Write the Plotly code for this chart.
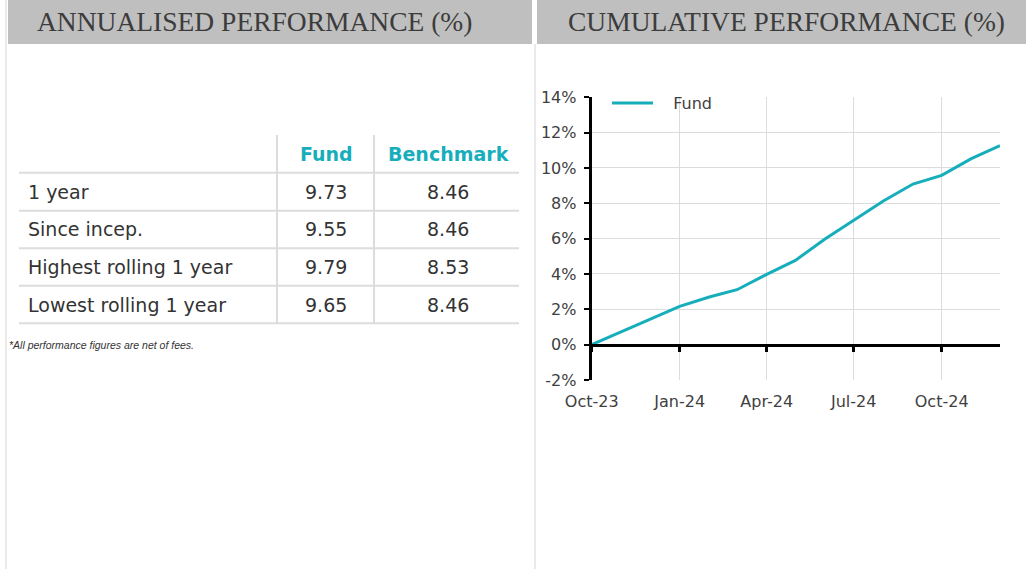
import plotly.graph_objects as go

# ---------------- data ----------------
row_labels = ["1 year", "Since incep.", "Highest rolling 1 year", "Lowest rolling 1 year"]
col_headers = ["Fund", "Benchmark"]
fund_vals = [9.73, 9.55, 9.79, 9.65]
bench_vals = [8.46, 8.46, 8.53, 8.46]
footnote = "*All performance figures are net of fees."

dates = ["2023-10-01", "2023-11-01", "2023-12-01", "2024-01-01", "2024-02-01", "2024-03-01",
         "2024-04-01", "2024-05-01", "2024-06-01", "2024-07-01", "2024-08-01", "2024-09-01",
         "2024-10-01", "2024-11-01", "2024-12-01"]
fund_cum = [0.0, 0.72, 1.45, 2.17, 2.70, 3.11, 3.98, 4.77, 5.98, 7.04, 8.13, 9.09, 9.58, 10.53, 11.26]
tick_dates = ["2023-10-01", "2024-01-01", "2024-04-01", "2024-07-01", "2024-10-01"]
tick_text = ["Oct-23", "Jan-24", "Apr-24", "Jul-24", "Oct-24"]
y_tick_vals = [-2, 0, 2, 4, 6, 8, 10, 12, 14]
y_tick_text = ["-2%", "0%", "2%", "4%", "6%", "8%", "10%", "12%", "14%"]

titles = ["ANNUALISED PERFORMANCE (%)", "CUMULATIVE PERFORMANCE (%)"]

# ---------------- layout helpers ----------------
W, H = 1026, 569
def xp(x):
    return x / W
def yp(y):
    return 1 - y / H

TEAL = "#17aebc"
GRID = "#dcdcdc"
TXT = "#333333"
FONT = "DejaVu Sans"

fig = go.Figure()

fig.add_trace(go.Scatter(x=dates, y=fund_cum, mode="lines", name="\u00a0\u00a0\u00a0Fund",
                         line=dict(color=TEAL, width=3), xaxis="x", yaxis="y"))

shapes = []
annotations = []

# title bars
bars = [(8, 532), (537, 1026)]
title_centers = [254, 786]
for (x0, x1), t, tc in zip(bars, titles, title_centers):
    shapes.append(dict(type="rect", xref="paper", yref="paper", x0=xp(x0), x1=xp(x1),
                       y0=yp(44), y1=yp(0), fillcolor="#bfbfbf", line=dict(width=0), layer="below"))
    annotations.append(dict(text=t, xref="paper", yref="paper", x=xp(tc), y=yp(22),
                            showarrow=False, xanchor="center", yanchor="middle",
                            font=dict(family="Liberation Serif", size=27.5, color="#3c3c3c")))
# thin panel borders
for x in (6, 535):
    shapes.append(dict(type="line", xref="paper", yref="paper", x0=xp(x), x1=xp(x),
                       y0=yp(569), y1=yp(0 if x == 6 else 44), line=dict(color="#d4d4d4", width=1)))

# ---------------- table ----------------
row_lines = [172.7, 210.7, 248.3, 285.7, 323.3]
col_divs = [277, 374]
for y in row_lines:
    shapes.append(dict(type="line", xref="paper", yref="paper", x0=xp(19), x1=xp(519),
                       y0=yp(y), y1=yp(y), line=dict(color=GRID, width=2)))
for x in col_divs:
    shapes.append(dict(type="line", xref="paper", yref="paper", x0=xp(x), x1=xp(x),
                       y0=yp(135), y1=yp(323.3), line=dict(color=GRID, width=2)))

col_centers = [326, 448]
for c, h in zip(col_centers, col_headers):
    annotations.append(dict(text=f"<b>{h}</b>", xref="paper", yref="paper", x=xp(c), y=yp(154),
                            showarrow=False, xanchor="center", yanchor="middle",
                            font=dict(family=FONT, size=19, color=TEAL)))
for i, lab in enumerate(row_labels):
    yc = (row_lines[i] + row_lines[i + 1]) / 2
    annotations.append(dict(text=lab, xref="paper", yref="paper", x=xp(26), y=yp(yc),
                            showarrow=False, xanchor="left", yanchor="middle",
                            font=dict(family=FONT, size=19, color=TXT)))
    for c, v in zip(col_centers, (fund_vals[i], bench_vals[i])):
        annotations.append(dict(text=f"{v:.2f}", xref="paper", yref="paper", x=xp(c), y=yp(yc),
                                showarrow=False, xanchor="center", yanchor="middle",
                                font=dict(family=FONT, size=19, color=TXT)))
annotations.append(dict(text=f"<i>{footnote}</i>", xref="paper", yref="paper", x=xp(7), y=yp(345),
                        showarrow=False, xanchor="left", yanchor="middle",
                        font=dict(family="Liberation Sans", size=10.5, color=TXT)))

# ---------------- chart axes ----------------
x_dom = [xp(591.7), xp(1000)]
y_dom = [yp(380), yp(97.3)]
y_range = [-2, 14]
zero_pos = y_dom[0] + (0 - y_range[0]) / (y_range[1] - y_range[0]) * (y_dom[1] - y_dom[0])

fig.update_layout(
    width=W, height=H, margin=dict(l=0, r=0, t=0, b=0, autoexpand=False),
    paper_bgcolor="white", plot_bgcolor="white",
    xaxis=dict(domain=x_dom, range=[dates[0], dates[-1]], tickvals=tick_dates, ticktext=tick_text,
               showgrid=True, gridcolor=GRID, gridwidth=1, showline=False, ticks="",
               tickfont=dict(family=FONT, size=16, color="#404040"), zeroline=False, ticklabelstandoff=10),
    xaxis2=dict(domain=x_dom, range=[dates[0], dates[-1]], overlaying="x", anchor="free",
                position=zero_pos, tickvals=tick_dates, showticklabels=False, showgrid=False,
                showline=True, linecolor="black", linewidth=3, ticks="outside", ticklen=5,
                tickwidth=3, tickcolor="black", zeroline=False),
    yaxis=dict(domain=y_dom, range=y_range, tickvals=y_tick_vals, ticktext=y_tick_text,
               showgrid=True, gridcolor=GRID,
               showline=True, linecolor="black", linewidth=3, ticks="outside", ticklen=5, tickwidth=2,
               tickcolor="black", zeroline=False, ticklabelstandoff=4,
               tickfont=dict(family=FONT, size=16, color="#404040")),
    legend=dict(x=xp(607), y=yp(103), xanchor="left", yanchor="middle", bgcolor="rgba(0,0,0,0)",
                font=dict(family=FONT, size=16, color="#404040"), itemwidth=41),
    showlegend=True,
    shapes=shapes, annotations=annotations,
)
# invisible trace on x2 so the axis renders
fig.add_trace(go.Scatter(x=[dates[0]], y=[0], xaxis="x2", yaxis="y", mode="lines",
                         showlegend=False, hoverinfo="skip", line=dict(width=0)))

fig.write_html("out.html", config={"displayModeBar": False},
               post_script="document.body.style.margin='0';")
